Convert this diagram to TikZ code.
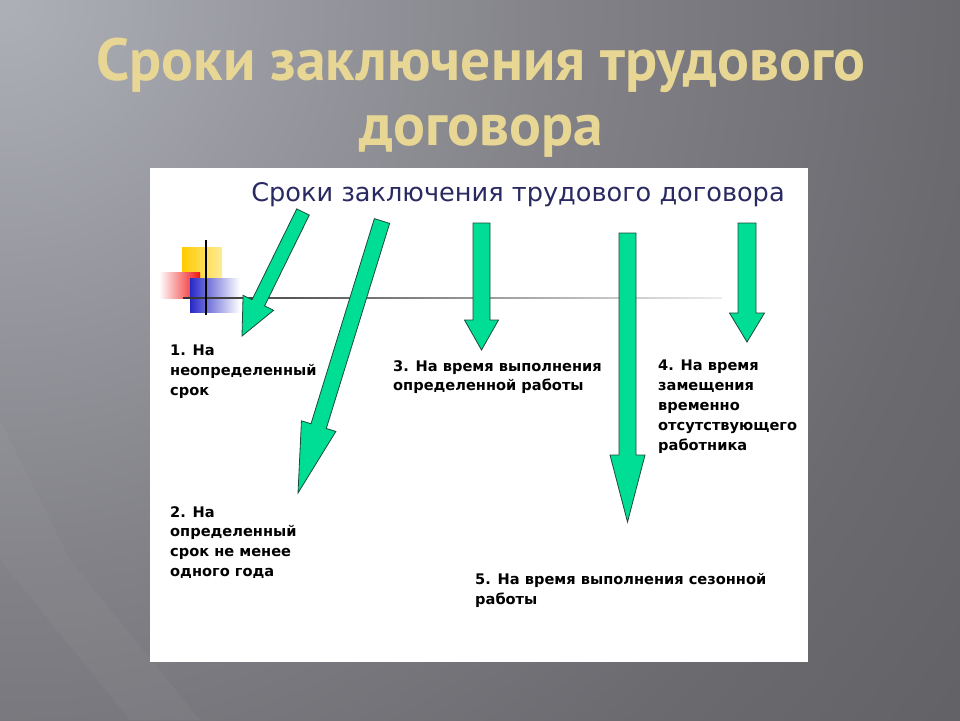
\documentclass[tikz,border=0pt]{standalone}
\usepackage{fontspec}
\setmainfont{DejaVu Sans}
\newfontfamily\titlefont{PT Sans}
\usetikzlibrary{calc, positioning}

\definecolor{bgLight}{RGB}{174,176,184}
\definecolor{bgMid}{RGB}{130,130,136}
\definecolor{bgLow}{RGB}{106,106,111}
\definecolor{bgDark}{RGB}{90,90,94}
\definecolor{titleYellow}{RGB}{232,214,148}
\definecolor{headNavy}{RGB}{42,42,98}
\definecolor{arrowGreen}{RGB}{0,222,150}
\definecolor{arrowEdge}{RGB}{25,75,55}
\definecolor{sqYellow}{RGB}{255,204,0}
\definecolor{sqRed}{RGB}{240,20,20}
\definecolor{sqBlue}{RGB}{40,40,200}

\pgfdeclareradialshading{bgglow}{\pgfpoint{0bp}{0bp}}{%
  color(0bp)=(bgLight); color(14bp)=(bgMid); color(24bp)=(bgLow); color(36bp)=(bgDark); color(50bp)=(bgDark)}

\tikzset{
  item/.style={anchor=north west, align=left, inner sep=0pt,
    font=\bfseries\fontsize{14.6}{19.8}\selectfont},
  fatarrow/.style={fill=arrowGreen, draw=arrowEdge, line width=0.8pt, line join=miter},
}

% thick green arrow: tail, tip, shaft half width, head half width, head length
\newcommand{\greenarrow}[5]{%
  \coordinate (neck) at ($(#2)!#5!(#1)$);
  \draw[fatarrow] ($(#1)!#3!90:(#2)$) -- ($(neck)!#3!90:(#2)$)
    -- ($(neck)!#4!90:(#2)$) -- (#2) -- ($(neck)!#4!-90:(#2)$)
    -- ($(neck)!#3!-90:(#2)$) -- ($(#1)!#3!-90:(#2)$) -- cycle;
}

\begin{document}
\begin{tikzpicture}[x=1pt, y=-1pt]
  \useasboundingbox (0,0) rectangle (960,720);

  % Background
  \begin{scope}
    \clip (0,0) rectangle (960,720);
    \shade[shading=bgglow] (-1000,-1000) rectangle (1000,1000);
    \fill[white, opacity=0.03] (0,420) -- (70,560) -- (200,720) -- (130,720) -- (0,560) -- cycle;
  \end{scope}

  % Title
  \node[font=\titlefont\bfseries\fontsize{59.5}{65}\selectfont, text=titleYellow, align=center]
    (title) at (481,98) {Сроки заключения трудового\\договора};

  % White panel
  \fill[white] (150,168) rectangle (808,662);

  \node[font=\fontsize{25.6}{28}\selectfont, text=headNavy] (head) at (518,195)
    {Сроки заключения трудового договора};

  % Decoration
  \shade[left color=sqYellow, right color=sqYellow!40] (182,247) rectangle (222,278);
  \shade[left color=white, right color=sqRed] (159,272) rectangle (200,298);
  \shade[left color=sqBlue, right color=white] (190,278) rectangle (240,312);
  \shade[left color=gray!40!black, right color=gray!15] (183,297.2) rectangle (722,298.8);
  \draw[line width=1.5pt] (206,240) -- (206,315);

  % Arrows
  \coordinate (a1s) at (303,212);  \coordinate (a1e) at (242,336);
  \coordinate (a2s) at (382,221);  \coordinate (a2e) at (298,493);
  \coordinate (a3s) at (481.5,223); \coordinate (a3e) at (481.5,350);
  \coordinate (a4s) at (627.5,233); \coordinate (a4e) at (627.5,522);
  \coordinate (a5s) at (747,223);  \coordinate (a5e) at (747,342);
  \greenarrow{a1s}{a1e}{7pt}{17pt}{37pt}
  \greenarrow{a2s}{a2e}{8pt}{18pt}{70pt}
  \greenarrow{a3s}{a3e}{8.5pt}{17pt}{30pt}
  \greenarrow{a4s}{a4e}{8.5pt}{17.5pt}{67pt}
  \greenarrow{a5s}{a5e}{9pt}{17.5pt}{29pt}

  % Terms
  \node[item] (t1) at (170,345) {1. На\\неопределенный\\срок};
  \node[item] (t2) at (170,506) {2. На\\определенный\\срок не менее\\одного года};
  \node[item] (t3) at (393,360) {3. На время выполнения\\определенной работы};
  \node[item] (t4) at (658,360) {4. На время\\замещения\\временно\\отсутствующего\\работника};
  \node[item] (t5) at (475,573) {5. На время выполнения сезонной\\работы};
\end{tikzpicture}
\end{document}
